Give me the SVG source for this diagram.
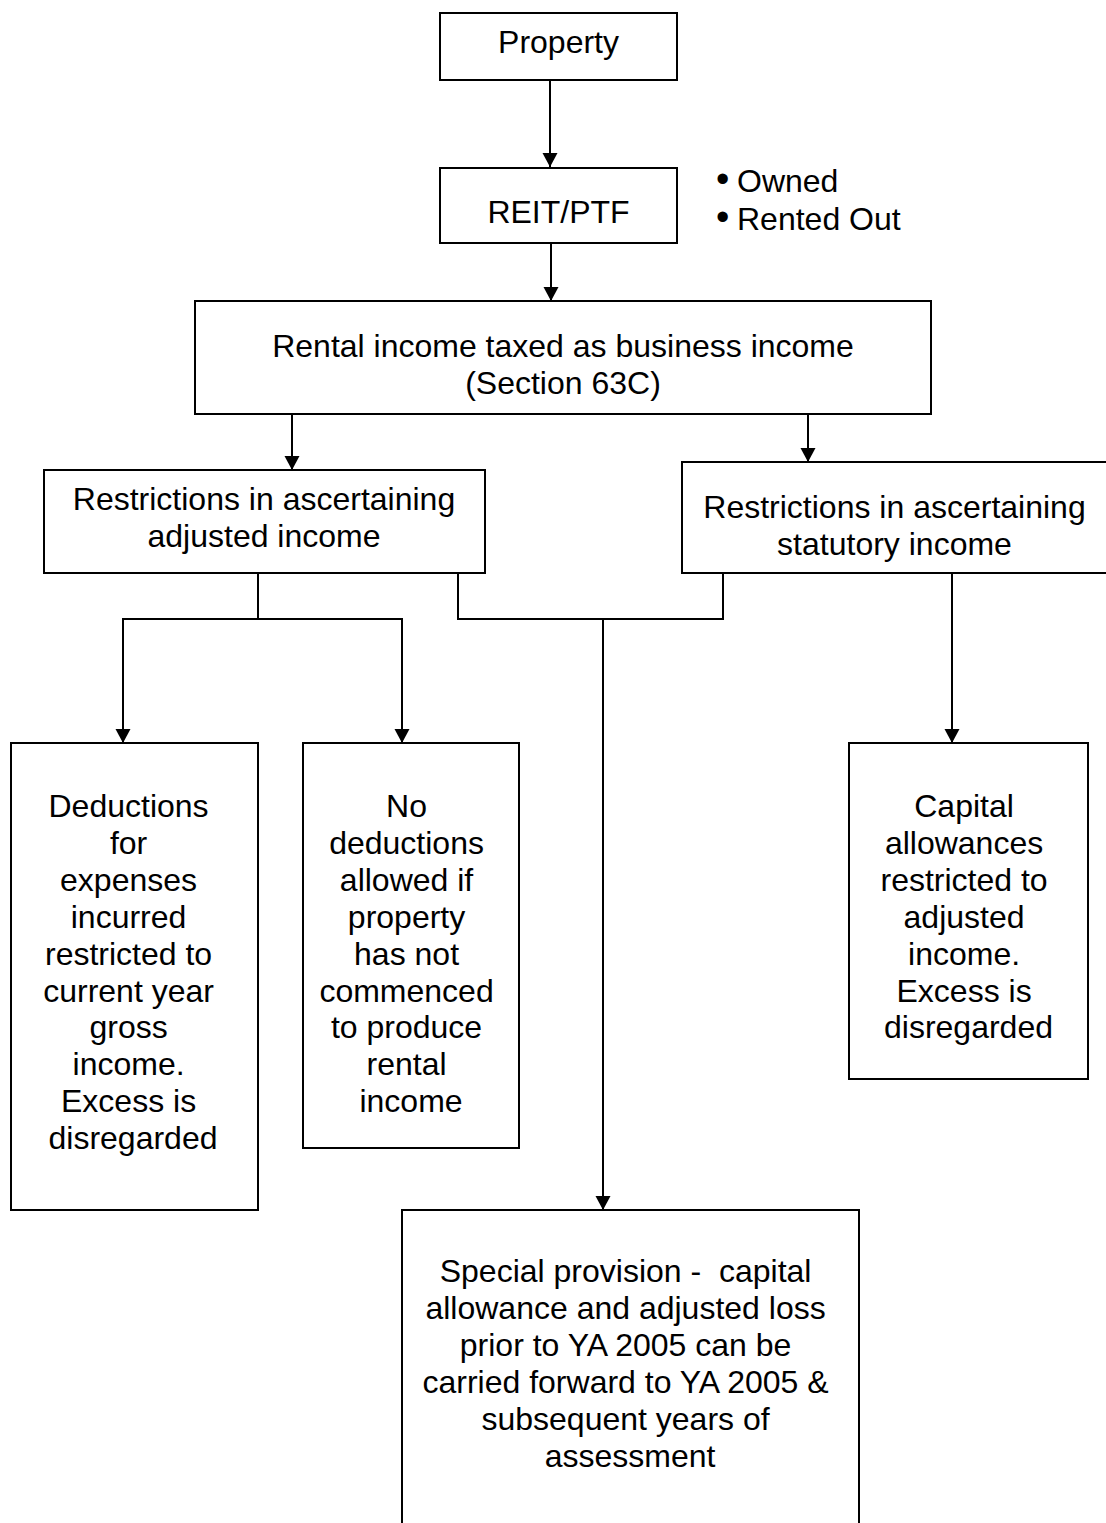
<svg xmlns="http://www.w3.org/2000/svg" width="1106" height="1523" viewBox="0 0 1106 1523">
<style>
.box{fill:#fff;stroke:#000;stroke-width:2}
.t{font-family:"Liberation Sans",Arial,sans-serif;font-size:32px;fill:#000;text-anchor:middle}
.tl{font-family:"Liberation Sans",Arial,sans-serif;font-size:32px;fill:#000}
.b{font-size:38px}
.c{fill:none;stroke:#000;stroke-width:2}
</style>
<defs>
<marker id="ah" markerUnits="userSpaceOnUse" markerWidth="15" markerHeight="16" refX="14" refY="7.5" orient="auto">
<path d="M0,0 L14,7.5 L0,15 z" fill="#000"/>
</marker>
</defs>
<rect width="1106" height="1523" fill="#fff"/>
<g id="connectors">
<line class="c" x1="550" y1="80" x2="550" y2="167" marker-end="url(#ah)"/>
<line class="c" x1="551" y1="243" x2="551" y2="301" marker-end="url(#ah)"/>
<line class="c" x1="292" y1="414" x2="292" y2="470" marker-end="url(#ah)"/>
<line class="c" x1="808" y1="414" x2="808" y2="462" marker-end="url(#ah)"/>
<polyline class="c" points="258,573 258,619"/>
<polyline class="c" points="123,743 123,619 402,619 402,743" marker-end="url(#ah)"/>
<line class="c" x1="123" y1="619" x2="123" y2="743" marker-end="url(#ah)"/>
<polyline class="c" points="458,573 458,619 723,619 723,573"/>
<line class="c" x1="603" y1="619" x2="603" y2="1210" marker-end="url(#ah)"/>
<line class="c" x1="952" y1="573" x2="952" y2="743" marker-end="url(#ah)"/>
</g>
<g id="property">
<rect class="box" x="440" y="13" width="237" height="67"/>
<text class="t" x="558.5" y="53">Property</text>
</g>
<g id="reit">
<rect class="box" x="440" y="168" width="237" height="75"/>
<text class="t" x="558.5" y="223">REIT/PTF</text>
</g>
<g id="bullets">
<text class="tl" y="192"><tspan class="b" x="716">•</tspan><tspan x="737">Owned</tspan></text>
<text class="tl" y="230"><tspan class="b" x="716">•</tspan><tspan x="737">Rented Out</tspan></text>
</g>
<g id="rental">
<rect class="box" x="195" y="301" width="736" height="113"/>
<text class="t" x="563" y="357">Rental income taxed as business income</text>
<text class="t" x="563" y="394">(Section 63C)</text>
</g>
<g id="adjusted">
<rect class="box" x="44" y="470" width="441" height="103"/>
<text class="t" x="264" y="510">Restrictions in ascertaining</text>
<text class="t" x="264" y="547">adjusted income</text>
</g>
<g id="statutory">
<rect class="box" x="682" y="462" width="426" height="111"/>
<text class="t" x="894.5" y="518">Restrictions in ascertaining</text>
<text class="t" x="894.5" y="555">statutory income</text>
</g>
<g id="deductions">
<rect class="box" x="11" y="743" width="247" height="467"/>
<text class="t" x="133">
<tspan x="133" y="817">Deductions</tspan>
<tspan x="133" y="854">for</tspan>
<tspan x="133" y="891">expenses</tspan>
<tspan x="133" y="928">incurred</tspan>
<tspan x="133" y="965">restricted to</tspan>
<tspan x="133" y="1002">current year</tspan>
<tspan x="133" y="1038">gross</tspan>
<tspan x="133" y="1075">income.</tspan>
<tspan x="133" y="1112">Excess is</tspan>
<tspan x="133" y="1149">disregarded</tspan>
</text>
</g>
<g id="nodeductions">
<rect class="box" x="303" y="743" width="216" height="405"/>
<text class="t" x="411">
<tspan x="411" y="817">No</tspan>
<tspan x="411" y="854">deductions</tspan>
<tspan x="411" y="891">allowed if</tspan>
<tspan x="411" y="928">property</tspan>
<tspan x="411" y="965">has not</tspan>
<tspan x="411" y="1002">commenced</tspan>
<tspan x="411" y="1038">to produce</tspan>
<tspan x="411" y="1075">rental</tspan>
<tspan x="411" y="1112">income</tspan>
</text>
</g>
<g id="capital">
<rect class="box" x="849" y="743" width="239" height="336"/>
<text class="t" x="968.5">
<tspan x="968.5" y="817">Capital</tspan>
<tspan x="968.5" y="854">allowances</tspan>
<tspan x="968.5" y="891">restricted to</tspan>
<tspan x="968.5" y="928">adjusted</tspan>
<tspan x="968.5" y="965">income.</tspan>
<tspan x="968.5" y="1002">Excess is</tspan>
<tspan x="968.5" y="1038">disregarded</tspan>
</text>
</g>
<g id="special">
<rect class="box" x="402" y="1210" width="457" height="400"/>
<text class="t" x="630">
<tspan x="630" y="1282">Special provision -&#160; capital</tspan>
<tspan x="630" y="1319">allowance and adjusted loss</tspan>
<tspan x="630" y="1356">prior to YA 2005 can be</tspan>
<tspan x="630" y="1393">carried forward to YA 2005 &amp;</tspan>
<tspan x="630" y="1430">subsequent years of</tspan>
<tspan x="630" y="1467">assessment</tspan>
</text>
</g>
</svg>
